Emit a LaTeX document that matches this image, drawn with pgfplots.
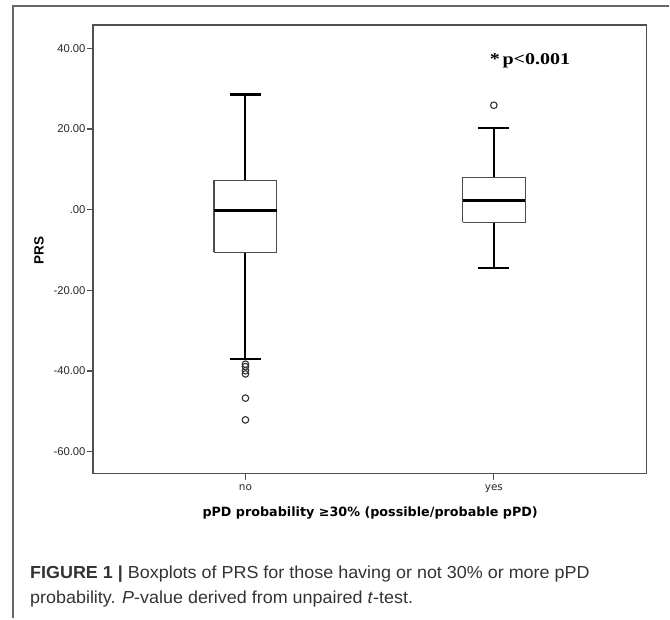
\documentclass[border=0pt]{standalone}
\usepackage{pgfplots}
\pgfplotsset{compat=1.18}
\usepackage{fontspec}
\setmainfont{Liberation Sans}
\newfontfamily\capfont[FakeStretch=1.03]{Liberation Sans}
\newfontfamily\dejavu{DejaVu Sans}
\newfontfamily\tnr[FakeStretch=1.22]{Liberation Serif}
\definecolor{axgray}{HTML}{505050}
\definecolor{capgray}{HTML}{333333}
\begin{document}
\begin{tikzpicture}
\draw[line width=1.3bp, color=black!60] (13bp,-619bp) -- (13bp,-6bp) -- (670bp,-6bp);
\begin{axis}[at={(93bp,-474bp)}, anchor=south west,
  width=554bp, height=449bp, scale only axis,
  xmin=0.386, xmax=2.614, ymin=-65.4, ymax=45.8,
  xtick={1,2}, xticklabels={no,yes},
  ytick={-60,-40,-20,0,20,40},
  yticklabels={-60.00,-40.00,-20.00,.00,20.00,40.00},
  tick align=outside, tick pos=left, major tick length=6bp,
  axis line style={line width=1.2bp, axgray},
  every tick/.style={line width=1.2bp, axgray},
  yticklabel style={font=\fontsize{11.3}{13}\selectfont, color=black!85, xshift=2bp},
  xticklabel style={font=\dejavu\fontsize{10.5}{12}\selectfont, color=black!85, yshift=-2bp},
  clip=false,
  boxst/.style={line width=1.1bp, draw=black!70, mark=none},
  whst/.style={line width=2.1bp, draw=black, mark=none},
  medst/.style={line width=3bp, draw=black, mark=none},
  outst/.style={only marks, mark=o, mark size=3.3bp,
     mark options={line width=1.1bp, draw=black!80, fill=white}},
]
% group "no": whiskers -37 / 28.56, Q1 -10.5, median -0.25, Q3 7.28
\addplot[whst] coordinates {(1,7.28) (1,28.56)};
\addplot[whst] coordinates {(0.9375,28.56) (1.0625,28.56)};
\addplot[whst] coordinates {(1,-10.5) (1,-37)};
\addplot[whst] coordinates {(0.9375,-37) (1.0625,-37)};
\addplot[boxst] coordinates {(0.8735,-10.5) (1.1265,-10.5) (1.1265,7.28) (0.8735,7.28) (0.8735,-10.5)};
\addplot[medst] coordinates {(0.8735,-0.25) (1.1265,-0.25)};
\addplot[outst] coordinates {(1,-38.3) (1,-38.9) (1,-39.9) (1,-40.7) (1,-46.7) (1,-52.1)};
% group "yes": whiskers -14.36 / 20.15, Q1 -3.12, median 2.4, Q3 7.92
\addplot[whst] coordinates {(2,7.92) (2,20.15)};
\addplot[whst] coordinates {(1.9375,20.15) (2.0625,20.15)};
\addplot[whst] coordinates {(2,-3.12) (2,-14.36)};
\addplot[whst] coordinates {(1.9375,-14.36) (2.0625,-14.36)};
\addplot[boxst] coordinates {(1.874,-3.12) (2.126,-3.12) (2.126,7.92) (1.874,7.92) (1.874,-3.12)};
\addplot[medst] coordinates {(1.874,2.4) (2.126,2.4)};
\addplot[outst] coordinates {(2,25.9)};
\node[font=\tnr\bfseries\fontsize{16.5}{19}\selectfont, anchor=west, inner sep=0pt] at (axis cs:1.983,36.9) {*\,p<0.001};
\end{axis}
\node[rotate=90, font=\bfseries\fontsize{13.5}{16}\selectfont] at (39bp,-250.5bp) {PRS};
\node[font=\dejavu\bfseries\fontsize{12.8}{14}\selectfont] at (370.5bp,-514bp) {pPD probability ≥30\% (possible/probable pPD)};
\node[anchor=base west, inner sep=0pt, color=capgray, font=\capfont\fontsize{17.5}{25}\selectfont] at (30bp,-579bp)
  {\textbf{FIGURE 1 |} Boxplots of PRS for those having or not 30\% or more pPD};
\node[anchor=base west, inner sep=0pt, color=capgray, font=\capfont\fontsize{17.5}{25}\selectfont] at (30bp,-604bp)
  {probability. \textit{P}-value derived from unpaired \textit{t}-test.};
\path[use as bounding box] (0bp,0bp) rectangle (670bp,-619bp);
\end{tikzpicture}
\end{document}
